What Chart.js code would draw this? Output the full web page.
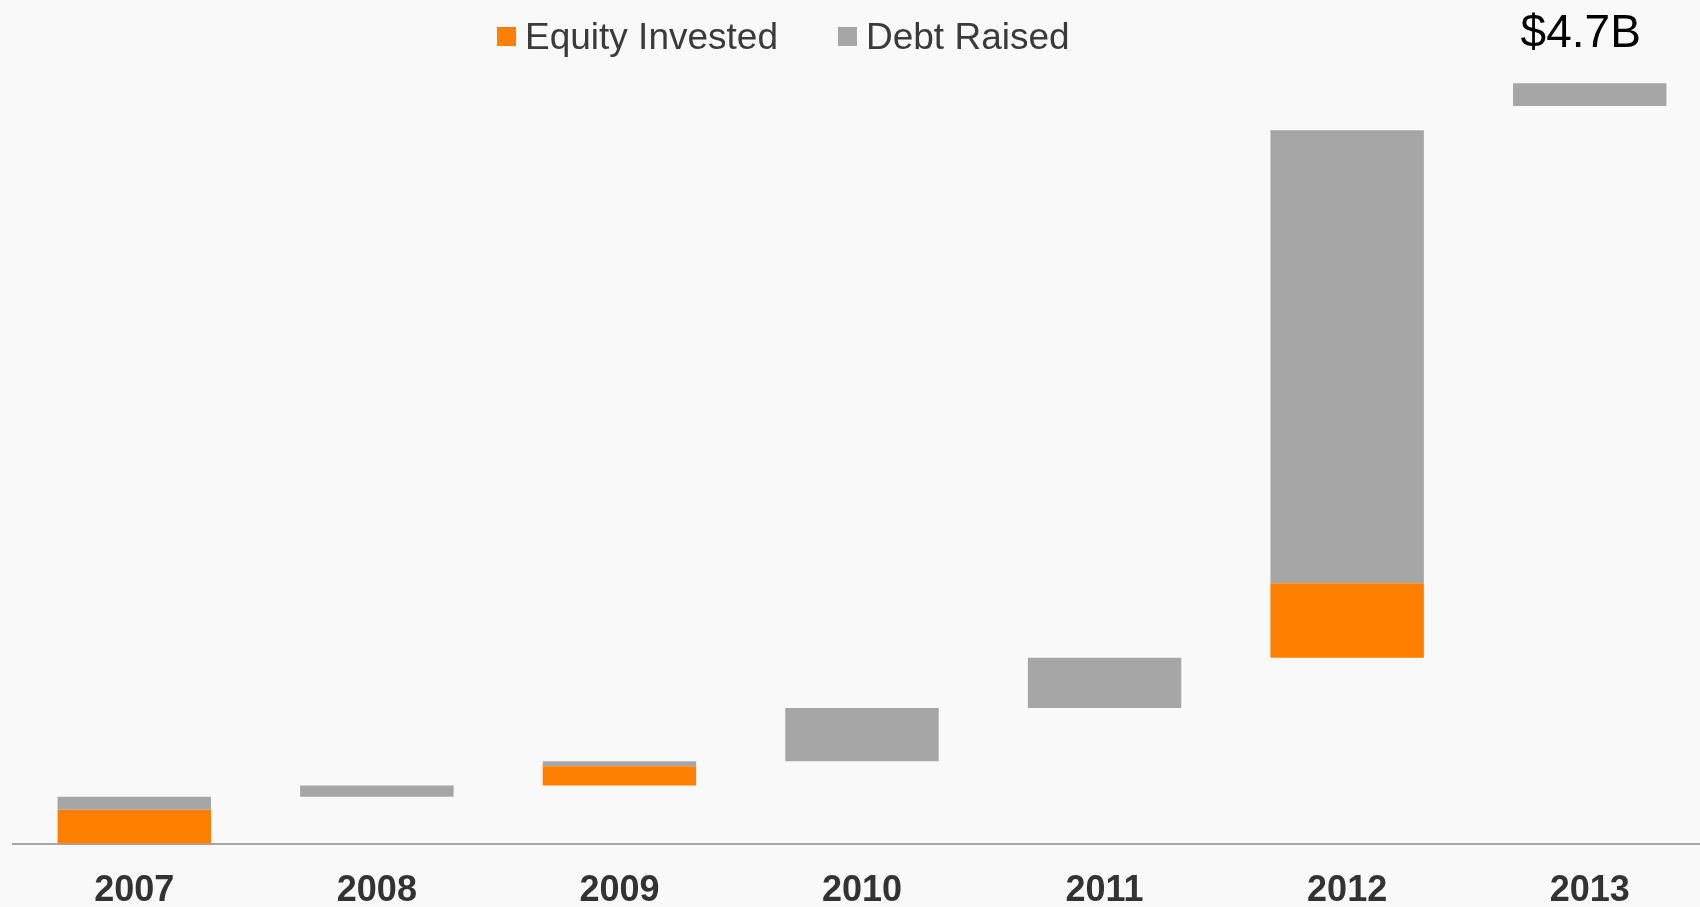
<!DOCTYPE html>
<html>
<head>
<meta charset="utf-8">
<script src="https://cdn.jsdelivr.net/npm/chart.js@4"></script>
<style>
  html,body{margin:0;padding:0;background:#f9f9f9;overflow:hidden;}
  #wrap{position:relative;width:1711px;height:939px;}
</style>
</head>
<body>
<div id="wrap"><canvas id="c"></canvas></div>
<script>
/* ---------- datos ---------- */
const years      = ['2007','2008','2009','2010','2011','2012','2013'];
// barras flotantes (inicio / fin, en $B)
const equityLow  = [0,    null, 0.36, null, null, 1.15, null];
const equityHigh = [0.21, null, 0.48, null, null, 1.61, null];
const debtLow    = [0.21, 0.29, 0.48, 0.51, 0.84, 1.61, 4.56];
const debtHigh   = [0.29, 0.36, 0.51, 0.84, 1.15, 4.41, 4.70];
const totalLabel = '$4.7B';

const ORANGE = '#ff8000', GREY = '#a6a6a6', TXT = '#3a3a3a';
const pair = (lo,hi) => lo.map((v,i)=> v===null ? null : [v, hi[i]]);

/* ---------- leyenda propia (espaciado como el original) ---------- */
const legendPlug = {
  id:'legendPlug',
  afterDraw(chart){
    const ctx = chart.ctx;
    ctx.save();
    ctx.font = '37px "Liberation Sans", Arial, sans-serif';
    ctx.textBaseline = 'middle';
    let x = 497;
    chart.data.datasets.forEach(ds=>{
      ctx.fillStyle = ds.backgroundColor;
      ctx.fillRect(x, 27, 19, 19);
      ctx.fillStyle = TXT;
      ctx.fillText(ds.label, x + 28, 39);
      x += 28 + ctx.measureText(ds.label).width + 60;
    });
    ctx.restore();
  }
};

/* ---------- etiqueta total sobre 2013 ---------- */
const totalPlug = {
  id:'totalPlug',
  afterDatasetsDraw(chart){
    const el = chart.getDatasetMeta(1).data[years.length-1];
    if(!el) return;
    const ctx = chart.ctx;
    ctx.save();
    ctx.font = '46px "Liberation Sans", Arial, sans-serif';
    ctx.fillStyle = '#000';
    ctx.textAlign = 'center';
    ctx.textBaseline = 'alphabetic';
    ctx.fillText(totalLabel, el.x - 9, el.y - 36);
    ctx.restore();
  }
};

new Chart(document.getElementById('c'),{
  type:'bar',
  data:{
    labels: years,
    datasets:[
      {label:'Equity Invested', data: pair(equityLow, equityHigh), backgroundColor: ORANGE},
      {label:'Debt Raised',     data: pair(debtLow, debtHigh),     backgroundColor: GREY}
    ]
  },
  options:{
    responsive:true, maintainAspectRatio:false,
    animation:false, events:[],
    layout:{padding:{left:13, top:59, right:0, bottom:0}},
    datasets:{bar:{grouped:false, categoryPercentage:1, barPercentage:0.6325, borderWidth:0}},
    plugins:{legend:{display:false}, tooltip:{enabled:false}},
    scales:{
      x:{
        grid:{display:false, drawTicks:false},
        border:{display:true, color:'#a6a6a6', width:2},
        ticks:{color:'#333', padding:26,
               font:{family:'"Liberation Sans", Arial, sans-serif', size:36, weight:'bold'}}
      },
      y:{display:false, min:0, max:4.85}
    }
  },
  plugins:[legendPlug, totalPlug]
});
</script>
</body>
</html>
